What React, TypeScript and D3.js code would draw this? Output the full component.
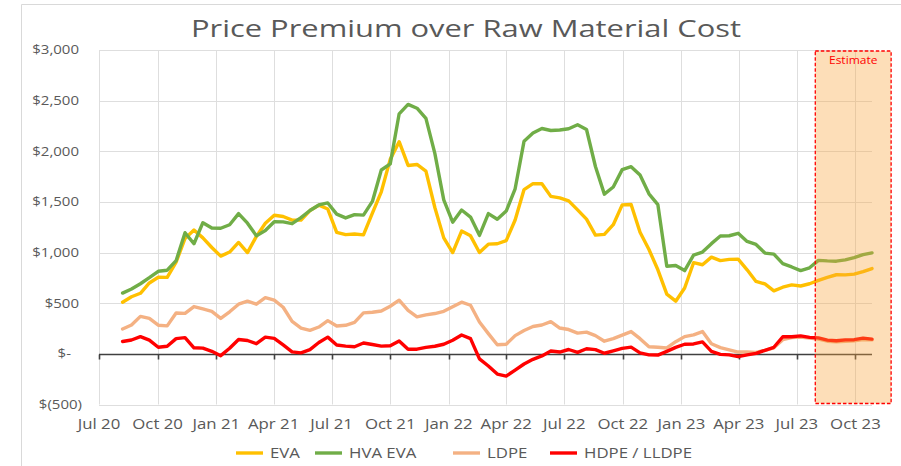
import React, { useRef, useEffect } from "react";
import * as d3 from "d3";

const width = 901;
const height = 466;

// fortnightly readings, first one Fri 7 Aug 2020, last one Fri 27 Oct 2023
const firstObservation = "2020-08-07";
const axisStart = "2020-07-01";
const stepDays = 14;

const evaValues = [
  510, 564, 598, 700, 756, 755, 905, 1140, 1222, 1145,
  1050, 965, 1005, 1100, 1000, 1160, 1290, 1369, 1356, 1320,
  1320, 1415, 1468, 1430, 1200, 1177, 1184, 1175, 1390, 1600,
  1920, 2095, 1860, 1870, 1805, 1445, 1145, 1000, 1212, 1165,
  1000, 1083, 1087, 1118, 1322, 1622, 1680, 1680, 1555, 1540,
  1510, 1422, 1330, 1172, 1180, 1275, 1471, 1475, 1200, 1030,
  830, 590, 520, 650, 900, 880, 955, 920, 933, 935,
  830, 715, 690, 622, 658, 681, 670, 692, 726, 756,
  781, 780, 787, 811, 842,
];

const hvaEvaValues = [
  600, 640, 692, 752, 815, 826, 920, 1196, 1087, 1295,
  1242, 1240, 1275, 1385, 1290, 1165, 1218, 1305, 1303, 1285,
  1345, 1415, 1470, 1490, 1380, 1342, 1375, 1370, 1505, 1815,
  1875, 2370, 2463, 2425, 2325, 1980, 1520, 1300, 1420, 1350,
  1170, 1385, 1329, 1410, 1630, 2100, 2180, 2225, 2205, 2210,
  2222, 2262, 2215, 1850, 1577, 1647, 1819, 1848, 1765, 1580,
  1473, 865, 872, 822, 975, 1005, 1088, 1163, 1166, 1190,
  1110, 1080, 995, 985, 890, 858, 822, 850, 923, 918,
  915, 928, 950, 980, 997,
];

const ldpeValues = [
  245, 285, 370, 350, 283, 276, 404, 400, 467, 444,
  420, 350, 415, 490, 520, 490, 555, 530, 460, 320,
  255, 232, 265, 328, 275, 282, 311, 405, 411, 423,
  470, 530, 430, 366, 385, 398, 420, 465, 510, 480,
  315, 200, 90, 95, 180, 230, 270, 285, 318, 255,
  240, 205, 215, 180, 125, 150, 185, 220, 150, 70,
  65, 58, 120, 170, 188, 220, 100, 62, 40, 18,
  18, 15, 35, 60, 140, 160, 165, 155, 145, 125,
  120, 125, 130, 140, 138,
];

const hdpeValues = [
  122, 137, 170, 135, 65, 75, 150, 160, 60, 57,
  25, -18, 55, 142, 132, 100, 165, 153, 88, 20,
  10, 42, 112, 165, 88, 76, 70, 107, 92, 76,
  80, 128, 45, 46, 64, 75, 95, 135, 186, 150,
  -50, -120, -200, -219, -160, -100, -54, -20, 28, 18,
  43, 15, 50, 42, 6, 30, 54, 66, 10, -10,
  -12, 25, 64, 95, 98, 118, 25, -5, -10, -28,
  -10, 5, 35, 65, 169, 169, 178, 163, 158, 136,
  130, 138, 140, 155, 146,
];

const seriesNames = ["EVA", "HVA EVA", "LDPE", "HDPE / LLDPE"];
const seriesColors = ["#FFC000", "#70AD47", "#F4B183", "#FF0000"];

const yTicks = [-500, 0, 500, 1000, 1500, 2000, 2500, 3000];
const quarterTicks = [
  "2020-07-01", "2020-10-01", "2021-01-01", "2021-04-01", "2021-07-01",
  "2021-10-01", "2022-01-01", "2022-04-01", "2022-07-01", "2022-10-01",
  "2023-01-01", "2023-04-01", "2023-07-01", "2023-10-01",
];
const estimateRange = ["2023-07-30", "2023-11-26"];

const textColor = "#595959";
const stretch = 1.2;

const App = () => {
  const chartRef = useRef<HTMLDivElement>(null);

  useEffect(() => {
    const parse = d3.timeParse("%Y-%m-%d");
    const first = parse(firstObservation) as Date;
    const dates = evaValues.map((_, i) => d3.timeDay.offset(first, i * stepDays));

    const root = d3.select(chartRef.current);
    root.selectAll("*").remove();

    const svg = root
      .append("svg")
      .attr("width", width)
      .attr("height", height)
      .style("display", "block")
      .style("font-family", "'Open Sans', sans-serif");

    svg.append("rect").attr("width", width).attr("height", height).attr("fill", "#fff");

    // chart frame (runs off the picture to the right and bottom)
    svg
      .append("path")
      .attr("d", `M21.5,${height} V4.5 H${width}`)
      .attr("fill", "none")
      .attr("stroke", "#d9d9d9");

    const x = d3
      .scaleTime()
      .domain([parse(axisStart) as Date, dates[dates.length - 1]])
      .range([99, 872]);
    const y = d3.scaleLinear().domain([-500, 3000]).range([404.5, 50]);

    // title
    svg
      .append("text")
      .attr("x", 466)
      .attr("y", 37)
      .attr("text-anchor", "middle")
      .attr("font-size", 23.5)
      .attr("textLength", 550)
      .attr("lengthAdjust", "spacingAndGlyphs")
      .attr("fill", textColor)
      .text("Price Premium over Raw Material Cost");

    const quarters = quarterTicks.map((d) => parse(d) as Date);

    // gridlines
    const grid = svg.append("g").attr("stroke", "#dedede").attr("stroke-width", 1);
    grid
      .selectAll("line.h")
      .data(yTicks)
      .enter()
      .append("line")
      .attr("x1", x.range()[0])
      .attr("x2", x.range()[1])
      .attr("y1", (d) => Math.round(y(d)) + 0.5)
      .attr("y2", (d) => Math.round(y(d)) + 0.5);
    grid
      .selectAll("line.v")
      .data(quarters)
      .enter()
      .append("line")
      .attr("x1", (d) => Math.round(x(d)) + 0.5)
      .attr("x2", (d) => Math.round(x(d)) + 0.5)
      .attr("y1", y(3000))
      .attr("y2", y(-500));

    // y labels, accounting style
    const yLabel = (v: number) =>
      v === 0 ? "$-" : v < 0 ? `$(${d3.format(",")(-v)})` : `$${d3.format(",")(v)}`;
    const yRight = (v: number) => (v === 0 ? 71 : v < 0 ? 82 : 79);
    svg
      .append("g")
      .selectAll("text")
      .data(yTicks)
      .enter()
      .append("text")
      .attr("transform", (d) => `translate(${yRight(d)},${y(d)}) scale(${stretch},1)`)
      .attr("text-anchor", "end")
      .attr("dy", "0.35em")
      .attr("font-size", 12.5)
      .attr("fill", textColor)
      .text(yLabel);

    // zero axis with tick marks
    const axisY = Math.round(y(0)) + 0.5;
    svg
      .append("line")
      .attr("x1", x.range()[0])
      .attr("x2", x.range()[1])
      .attr("y1", axisY)
      .attr("y2", axisY)
      .attr("stroke", "#404040")
      .attr("stroke-width", 1.6);
    svg
      .append("g")
      .selectAll("line")
      .data(quarters)
      .enter()
      .append("line")
      .attr("x1", (d) => Math.round(x(d)) + 0.5)
      .attr("x2", (d) => Math.round(x(d)) + 0.5)
      .attr("y1", axisY)
      .attr("y2", axisY + 5)
      .attr("stroke", "#404040")
      .attr("stroke-width", 1.6);

    // x labels
    const fmt = d3.timeFormat("%b %y");
    svg
      .append("g")
      .selectAll("text")
      .data(quarters)
      .enter()
      .append("text")
      .attr("transform", (d) => `translate(${x(d)},429) scale(${stretch},1)`)
      .attr("text-anchor", "middle")
      .attr("font-size", 14)
      .attr("fill", textColor)
      .text((d) => fmt(d));

    // series
    const allSeries = [evaValues, hvaEvaValues, ldpeValues, hdpeValues];
    const line = d3
      .line<number>()
      .x((_, i) => x(dates[i]))
      .y((d) => y(d));

    allSeries.forEach((values, k) => {
      svg
        .append("path")
        .datum(values)
        .attr("d", line)
        .attr("fill", "none")
        .attr("stroke", seriesColors[k])
        .attr("stroke-width", 3.4)
        .attr("stroke-linejoin", "round")
        .attr("stroke-linecap", "round");
    });

    // estimate shading, laid over the lines
    const ex0 = x(parse(estimateRange[0]) as Date);
    const ex1 = x(parse(estimateRange[1]) as Date);
    svg
      .append("rect")
      .attr("x", ex0)
      .attr("y", y(3000) + 1)
      .attr("width", ex1 - ex0)
      .attr("height", y(-500) - y(3000) - 2)
      .attr("fill", "#F9A33A")
      .attr("fill-opacity", 0.36)
      .attr("stroke", "#FF0000")
      .attr("stroke-width", 1.3)
      .attr("stroke-dasharray", "3.5,2");
    svg
      .append("text")
      .attr("transform", `translate(${(ex0 + ex1) / 2},64) scale(${stretch},1)`)
      .attr("text-anchor", "middle")
      .attr("font-size", 10)
      .attr("fill", "#FF0000")
      .text("Estimate");

    // legend
    const legendX = [236, 315, 453, 550];
    const legend = svg
      .append("g")
      .selectAll("g")
      .data(seriesNames)
      .enter()
      .append("g")
      .attr("transform", (_, i) => `translate(${legendX[i]},453)`);
    legend
      .append("line")
      .attr("x1", 0)
      .attr("x2", 27)
      .attr("stroke", (_, i) => seriesColors[i])
      .attr("stroke-width", 3.4);
    legend
      .append("text")
      .attr("transform", `translate(34,0) scale(${stretch},1)`)
      .attr("dy", "0.35em")
      .attr("font-size", 14)
      .attr("fill", textColor)
      .text((d) => d);
  }, []);

  return (
    <div
      ref={chartRef}
      style={{ position: "absolute", left: 0, top: 0, width, height }}
    ></div>
  );
};

export default App;
